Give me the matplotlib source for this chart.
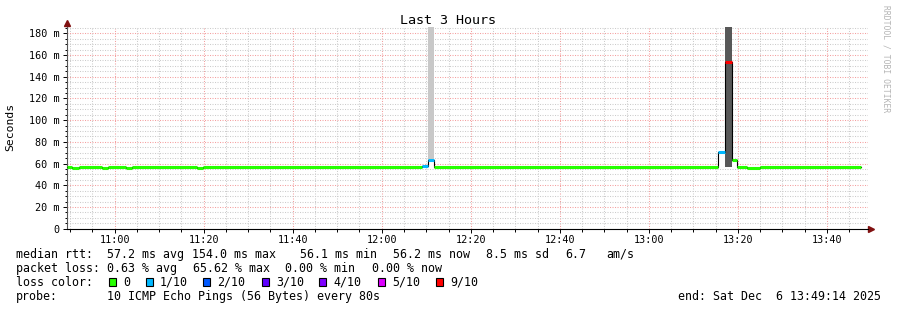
import matplotlib

matplotlib.use("Agg")
import matplotlib.pyplot as plt
from matplotlib.patches import Rectangle
from matplotlib.ticker import FixedLocator, FuncFormatter, MultipleLocator

W, H = 897, 310
plt.rcParams["font.family"] = ["DejaVu Sans Mono"]

# window shown: last 3 hours ending 13:49:14
window_end = "13:49:14"
window_len = 180  # minutes

# median rtt, one entry per run of equal steps (ms), loss in tenths
run_start = ["10:49:14", "10:50:29", "10:52:00", "10:57:10", "10:58:31",
             "11:02:34", "11:03:54", "11:18:31", "11:19:52", "12:09:05",
             "12:10:25", "12:11:46", "13:15:36", "13:17:06", "13:18:35",
             "13:19:52", "13:22:07", "13:25:02"]
run_last_end = "13:47:44"
run_median = [57.0, 56.1, 57.0, 56.1, 57.0, 56.1, 57.0, 56.1, 57.0, 57.5,
              63.3, 57.0, 70.8, 154.0, 63.1, 57.0, 56.1, 57.0]
run_loss = [0, 0, 0, 0, 0, 0, 0, 0, 0, 1, 1, 0, 1, 9, 0, 0, 0, 0]

# smoke (spread of the individual pings) behind the median
smoke_start = ["12:10:25", "12:10:25", "13:15:36", "13:17:06", "13:18:35"]
smoke_end = ["12:11:46", "12:11:46", "13:17:06", "13:18:35", "13:19:52"]
smoke_low = [57.0, 63.3, 57.0, 57.0, 57.0]
smoke_high = [63.3, 200.0, 70.8, 200.0, 63.1]
smoke_level = ["none", "light", "none", "dark", "none"]

loss_labels = ["0", "1/10", "2/10", "3/10", "4/10", "5/10", "9/10"]
loss_colors = ["#26ff00", "#00b8ff", "#0059ff", "#5e00ff", "#7e00ff", "#dd00ff", "#ff0000"]
loss_steps = [0, 1, 2, 3, 4, 5, 9]

stats_rtt = ["median rtt:", "57.2 ms avg", "154.0 ms max", "56.1 ms min",
             "56.2 ms now", "8.5 ms sd", "6.7", "am/s"]
stats_loss = ["packet loss:", "0.63 % avg", "65.62 % max", "0.00 % min", "0.00 % now"]
probe_text = ["probe:", "10 ICMP Echo Pings (56 Bytes) every 80s"]
end_text = "end: Sat Dec  6 13:49:14 2025"

shade_colors = {"none": "#ffffff", "light": "#c8c8c8", "dark": "#585858"}


def minutes(hms):
    h, m, s = (int(v) for v in hms.split(":"))
    return h * 60 + m + s / 60.0


def fx(x):
    return x / W


def fy(y):
    return 1 - y / H


fig = plt.figure(figsize=(W / 100, H / 100), dpi=100)
fig.patch.set_facecolor("white")
ax = fig.add_axes([fx(66.7), 81.3 / H, 801.3 / W, 201.4 / H])

t_end = minutes(window_end)
t_start = t_end - window_len
ax.set_xlim(t_start, t_end)
ax.set_ylim(0, 185.5)

ax.xaxis.set_major_locator(FixedLocator(list(range(660, 830, 20))))
ax.xaxis.set_minor_locator(MultipleLocator(5))
ax.xaxis.set_major_formatter(FuncFormatter(lambda v, p: f"{int(v // 60):02d}:{int(round(v % 60)):02d}"))
ax.yaxis.set_major_locator(MultipleLocator(20))
ax.yaxis.set_minor_locator(MultipleLocator(5))
ax.yaxis.set_major_formatter(FuncFormatter(lambda v, p: "0" if v == 0 else f"{int(v)} m"))

dots = (0, (1.0, 1.4))
ax.grid(which="minor", color="#cccccc", linestyle=dots, linewidth=0.75, zorder=0)
ax.grid(which="major", color="#f4a0a0", linestyle=dots, linewidth=0.75, zorder=0)
ax.set_axisbelow(True)

ax.tick_params(which="major", length=3, width=0.7, labelsize=7.25, colors="black")
ax.tick_params(which="minor", length=1.8, width=0.7, colors="black")
ax.tick_params(axis="y", pad=2.2)
ax.tick_params(axis="x", pad=1.5)

for name in ("top", "right"):
    ax.spines[name].set_visible(False)
ax.spines["left"].set_color("#555555")
ax.spines["bottom"].set_color("black")
ax.spines["left"].set_linewidth(0.8)
ax.spines["bottom"].set_linewidth(0.8)

# axis arrows
ax.plot([0, 0], [1, 1.02], transform=ax.transAxes, color="#555555", lw=0.8, clip_on=False)
ax.plot([0], [1.022], transform=ax.transAxes, marker="^", markersize=4.2,
        color="#801010", clip_on=False)
ax.plot([1.0035], [0], transform=ax.transAxes, marker=">", markersize=4.2,
        color="#801010", clip_on=False)

# smoke
for s, e, lo, hi, lvl in zip(smoke_start, smoke_end, smoke_low, smoke_high, smoke_level):
    a, b = minutes(s), minutes(e)
    ax.bar(a, hi - lo, width=b - a, bottom=lo, align="edge",
           color=shade_colors[lvl], linewidth=0, zorder=2)

# median: thin black step outline, then loss coloured segments
ends = run_start[1:] + [run_last_end]
xs = [minutes(s) for s in run_start] + [minutes(run_last_end)]
ax.step(xs, run_median + [run_median[-1]], where="post", color="black", lw=0.8, zorder=3)

color_for = dict(zip(loss_steps, loss_colors))
for s, e, med, loss in zip(run_start, ends, run_median, run_loss):
    ax.plot([minutes(s), minutes(e)], [med, med], color=color_for[loss],
            lw=2.2, solid_capstyle="butt", zorder=4)

# texts
fig.text(fx(448), fy(24.5), "Last 3 Hours", fontsize=9.6, ha="center", va="baseline")
fig.text(fx(10.5), fy(127), "Seconds", fontsize=8.2, rotation=90, ha="center", va="center")
fig.text(fx(886), fy(59), "RRDTOOL / TOBI OETIKER", fontsize=5.8, rotation=270,
         color="#b4b4b4", ha="center", va="center")

fs = 8.4
rtt_x = [16, 107, 192.3, 300, 393.3, 486, 565, 606]
for x, t in zip(rtt_x, stats_rtt):
    fig.text(fx(x), fy(257.7), t, fontsize=fs, va="baseline")

loss_x = [16, 107.3, 193.3, 285, 371.7]
for x, t in zip(loss_x, stats_loss):
    fig.text(fx(x), fy(271.8), t, fontsize=fs, va="baseline")

fig.text(fx(16), fy(285.8), "loss color:", fontsize=fs, va="baseline")
box_x = [108.7, 145.7, 203.3, 261.7, 319.3, 377.7, 435.7]
for x, lab, col in zip(box_x, loss_labels, loss_colors):
    fig.add_artist(Rectangle((fx(x), fy(285.7)), 7 / W, 8 / H, transform=fig.transFigure,
                             facecolor=col, edgecolor="black", linewidth=0.8))
    fig.text(fx(x + 14.3), fy(285.8), lab, fontsize=fs, va="baseline")

probe_x = [16, 107]
for x, t in zip(probe_x, probe_text):
    fig.text(fx(x), fy(299.8), t, fontsize=fs, va="baseline")
fig.text(fx(881), fy(299.8), end_text, fontsize=fs, ha="right", va="baseline")

fig.savefig("out.png", dpi=100, facecolor="white")
